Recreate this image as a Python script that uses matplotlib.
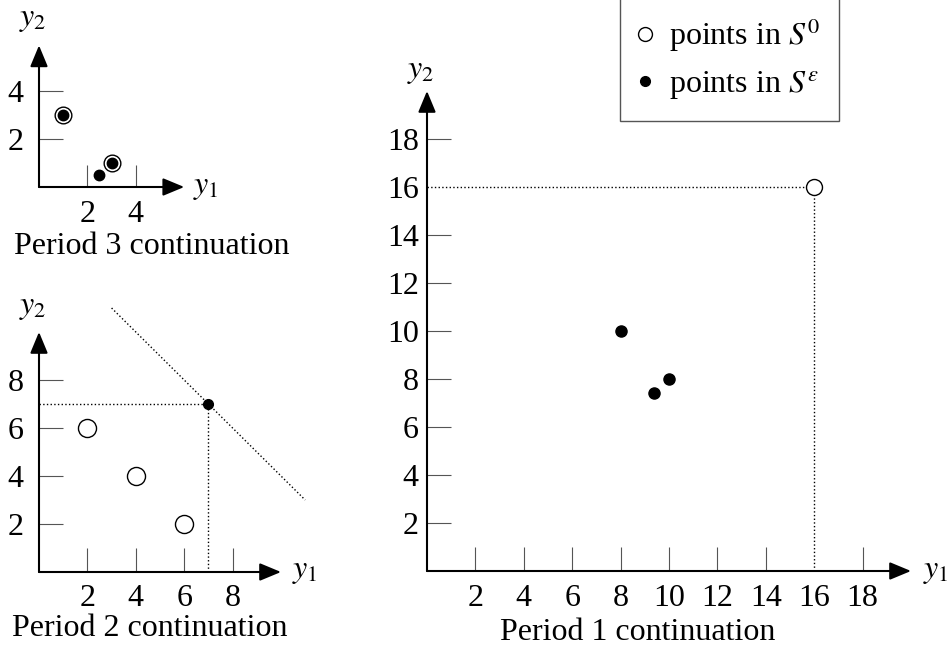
import matplotlib
matplotlib.use("Agg")
import matplotlib.pyplot as plt
from matplotlib.lines import Line2D

plt.rcParams["font.family"] = ["Liberation Serif", "DejaVu Serif"]
plt.rcParams["mathtext.fontset"] = "stix"

# Period 3 continuation
p3_circled_y1 = [1, 3]
p3_circled_y2 = [3, 1]
p3_dot_y1 = [2.5]
p3_dot_y2 = [0.5]
p3_ticks = [2, 4]

# Period 2 continuation
p2_open_y1 = [2, 4, 6]
p2_open_y2 = [6, 4, 2]
p2_dot_y1 = [7]
p2_dot_y2 = [7]
p2_line_y1 = [3, 11]
p2_line_y2 = [11, 3]
p2_ticks = [2, 4, 6, 8]

# Period 1 continuation
p1_open_y1 = [16]
p1_open_y2 = [16]
p1_dot_y1 = [8, 10, 9.4]
p1_dot_y2 = [10, 8, 7.4]
p1_ticks = [2, 4, 6, 8, 10, 12, 14, 16, 18]

W, H = 951, 653
FS = 23
fig = plt.figure(figsize=(W / 100, H / 100), dpi=100)


def make_axes(x0, y0, xmax, ymax, ypad, sx=24.2, sy=24.0):
    # x0, y0: pixel position of the origin (from top-left)
    ax = fig.add_axes([x0 / W, (H - y0) / H, xmax * sx / W, ymax * sy / H])
    ax.set_xlim(0, xmax)
    ax.set_ylim(0, ymax)
    for s in ax.spines.values():
        s.set_visible(False)
    ax.patch.set_alpha(0)
    arrow = dict(arrowstyle="-|>,head_length=0.65,head_width=0.27",
                 mutation_scale=20, lw=1.5, color="black", shrinkA=0, shrinkB=0)
    ax.annotate("", xy=(xmax, 0), xytext=(0, 0), arrowprops=arrow,
                annotation_clip=False)
    ax.annotate("", xy=(0, ymax), xytext=(0, 0), arrowprops=arrow,
                annotation_clip=False)
    ax.tick_params(direction="in", length=17, width=0.8, color="#555555",
                   labelsize=FS)
    ax.tick_params(axis="x", pad=9)
    ax.tick_params(axis="y", pad=ypad)
    return ax


def axis_labels(ax, x1, y2):
    ax.text(x1, 0, "$y_1$", fontsize=FS, ha="left", va="center", clip_on=False)
    ax.text(-0.25, y2, "$y_2$", fontsize=FS, ha="center", va="center",
            clip_on=False)


# ---- Period 3 ----
ax3 = make_axes(39, 187, 6, 5.9, ypad=11)
ax3.set_xticks(p3_ticks)
ax3.set_yticks(p3_ticks)
ax3.tick_params(axis="x", length=16)
ax3.plot(p3_circled_y1, p3_circled_y2, "o", ms=12, mfc="white", mec="black",
         mew=1.0, clip_on=False)
ax3.plot(p3_circled_y1, p3_circled_y2, "o", ms=7.5, color="black", clip_on=False)
ax3.plot(p3_dot_y1, p3_dot_y2, "o", ms=7.5, color="black", clip_on=False)
axis_labels(ax3, 6.35, 7.0)

# ---- Period 2 ----
ax2 = make_axes(39, 572, 10, 10, ypad=11)
ax2.set_xticks(p2_ticks)
ax2.set_yticks(p2_ticks)
ax2.plot(p2_line_y1, p2_line_y2, ":", color="black", lw=1.0, clip_on=False)
ax2.plot([0, p2_dot_y1[0]], [p2_dot_y2[0], p2_dot_y2[0]], ":", color="black", lw=1.0)
ax2.plot([p2_dot_y1[0], p2_dot_y1[0]], [0, p2_dot_y2[0]], ":", color="black", lw=1.0)
ax2.plot(p2_open_y1, p2_open_y2, "o", ms=13, mfc="white", mec="black", mew=1.0)
ax2.plot(p2_dot_y1, p2_dot_y2, "o", ms=7, color="black")
axis_labels(ax2, 10.45, 11.0)

# ---- Period 1 ----
ax1 = make_axes(427, 571, 20, 20, ypad=6)
ax1.set_xticks(p1_ticks)
ax1.set_yticks(p1_ticks)
# the tick at 16 is replaced by the dotted guide
ax1.xaxis.get_major_ticks()[7].tick1line.set_visible(False)
ax1.yaxis.get_major_ticks()[7].tick1line.set_visible(False)
ax1.plot([0, p1_open_y1[0]], [p1_open_y2[0], p1_open_y2[0]], ":", color="black", lw=1.0)
ax1.plot([p1_open_y1[0], p1_open_y1[0]], [0, p1_open_y2[0]], ":", color="black", lw=1.0)
ax1.plot(p1_open_y1, p1_open_y2, "o", ms=11.5, mfc="white", mec="black", mew=1.0)
ax1.plot(p1_dot_y1, p1_dot_y2, "o", ms=8, color="black")
axis_labels(ax1, 20.5, 20.8)

# ---- titles ----
fig.text(152 / W, 1 - 247 / H, "Period 3 continuation", fontsize=FS,
         ha="center", va="center")
fig.text(150 / W, 1 - 628 / H, "Period 2 continuation", fontsize=FS,
         ha="center", va="center")
fig.text(638 / W, 1 - 632 / H, "Period 1 continuation", fontsize=FS,
         ha="center", va="center")

# ---- legend ----
handles = [
    Line2D([], [], ls="none", marker="o", ms=10, mfc="white", mec="black", mew=1.0),
    Line2D([], [], ls="none", marker="o", ms=7, color="black"),
]
labels = [r"points in $S^0$", r"points in $S^{\varepsilon}$"]
leg = fig.legend(handles, labels, loc="upper left",
                 bbox_to_anchor=(620 / W, 1.004), fontsize=FS, frameon=True,
                 fancybox=False, edgecolor="#555555", framealpha=1,
                 borderaxespad=0, borderpad=0.6, handlelength=0.36,
                 handletextpad=0.57, labelspacing=0.47)
leg.get_frame().set_linewidth(1.0)

fig.savefig("out.png", dpi=100)
